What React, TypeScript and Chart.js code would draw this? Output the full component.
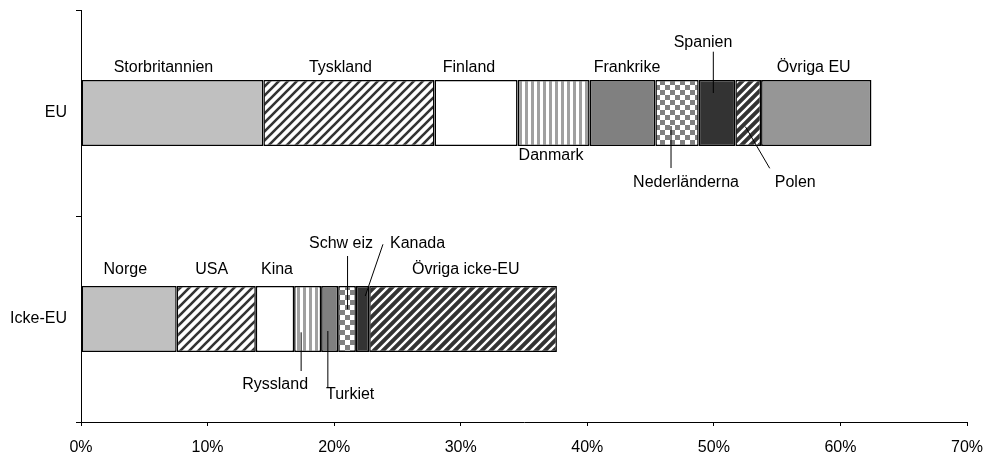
import { useEffect, useRef } from 'react';
import { Chart, registerables } from 'chart.js';

Chart.register(...registerables);

// ---------- data ----------
const categories = ['EU', 'Icke-EU'];
const euCountries = ['Storbritannien', 'Tyskland', 'Finland', 'Danmark', 'Frankrike', 'Nederländerna', 'Spanien', 'Polen', 'Övriga EU'];
const euValues = [14.41, 13.52, 6.56, 5.69, 5.2, 3.42, 2.9, 2.03, 8.72];
const nonEuCountries = ['Norge', 'USA', 'Kina', 'Ryssland', 'Turkiet', 'Schw eiz', 'Kanada', 'Övriga icke-EU'];
const nonEuValues = [7.56, 6.25, 3.03, 2.13, 1.35, 1.4, 1.05, 14.83];
const xTickValues = [0, 10, 20, 30, 40, 50, 60, 70];

// ---------- styles ----------
const FONT = '"Liberation Sans", Arial, Helvetica, sans-serif';
const FONT_SIZE = 16;

type Kind = 'solid' | 'hatch' | 'vstripe' | 'checker' | 'darkhatch';
const segmentStyles: { kind: Kind; color?: string }[] = [
  { kind: 'solid', color: '#C0C0C0' },
  { kind: 'hatch' },
  { kind: 'solid', color: '#FFFFFF' },
  { kind: 'vstripe' },
  { kind: 'solid', color: '#808080' },
  { kind: 'checker' },
  { kind: 'solid', color: '#333333' },
  { kind: 'darkhatch' },
  { kind: 'solid', color: '#969696' },
];

// label layout: dx from segment centre, dy (baseline) from bar centre, optional leader line
type LabelCfg = { seg: number; dx: number; dy: number; leader?: [number, number, number, number] };
const euLabelLayout: LabelCfg[] = [
  { seg: 0, dx: -9, dy: -41 },
  { seg: 1, dx: -8.5, dy: -41 },
  { seg: 2, dx: -7, dy: -41 },
  { seg: 3, dx: -2.5, dy: 47 },
  { seg: 4, dx: 4.5, dy: -41 },
  { seg: 5, dx: 9, dy: 73.7, leader: [-6, 13, -6, 55] },
  { seg: 6, dx: -14, dy: -66.3, leader: [-3.7, -61.3, -3.7, -20] },
  { seg: 7, dx: 47, dy: 73.7, leader: [-2.8, 13.7, 21.5, 55.3] },
  { seg: 8, dx: -2.5, dy: -41 },
];
const nonEuLabelLayout: LabelCfg[] = [
  { seg: 0, dx: -3.8, dy: -44.7 },
  { seg: 1, dx: -4.5, dy: -44.7 },
  { seg: 2, dx: 2, dy: -44.7 },
  { seg: 3, dx: -32.5, dy: 69.6, leader: [-6.5, 13.3, -6.5, 52] },
  { seg: 4, dx: 20.5, dy: 80.3, leader: [-1.8, 12, -1.8, 68] },
  { seg: 5, dx: -6, dy: -71.4, leader: [0.5, -63, 0.5, -9.7] },
  { seg: 6, dx: 55, dy: -71.4, leader: [20.4, -74.7, 2.7, -23] },
  { seg: 7, dx: 2.7, dy: -44.7 },
];

function makePattern(kind: Kind, color?: string): string | CanvasPattern {
  if (kind === 'solid') return color || '#fff';
  const c = document.createElement('canvas');
  const g = c.getContext('2d')!;
  if (kind === 'hatch' || kind === 'darkhatch') {
    const s = 9;
    c.width = s; c.height = s;
    g.fillStyle = kind === 'hatch' ? '#FFFFFF' : '#333333';
    g.fillRect(0, 0, s, s);
    g.strokeStyle = kind === 'hatch' ? '#333333' : '#FFFFFF';
    g.lineWidth = kind === 'hatch' ? 2.6 : 2.4;
    g.beginPath();
    for (let k = -1; k <= 1; k++) {
      g.moveTo(k * s - 1, s + 1);
      g.lineTo(k * s + s + 1, -1);
    }
    g.stroke();
  } else if (kind === 'vstripe') {
    c.width = 6; c.height = 6;
    g.fillStyle = '#FFFFFF';
    g.fillRect(0, 0, 6, 6);
    g.fillStyle = '#A0A0A0';
    g.fillRect(3, 0, 3, 6);
  } else if (kind === 'checker') {
    c.width = 10; c.height = 10;
    g.fillStyle = '#FFFFFF';
    g.fillRect(0, 0, 10, 10);
    g.fillStyle = '#808080';
    g.fillRect(0, 0, 5, 5);
    g.fillRect(5, 5, 5, 5);
  }
  return g.createPattern(c, 'repeat')!;
}

const labelPlugin = {
  id: 'segLabels',
  afterDatasetsDraw(chart: any) {
    const ctx = chart.ctx as CanvasRenderingContext2D;
    ctx.save();
    ctx.font = `${FONT_SIZE}px ${FONT}`;
    ctx.fillStyle = '#000';
    ctx.strokeStyle = '#000';
    ctx.lineWidth = 1;
    ctx.textAlign = 'center';
    ctx.textBaseline = 'alphabetic';
    const groups: [number, LabelCfg[], string[]][] = [
      [0, euLabelLayout, euCountries],
      [1, nonEuLabelLayout, nonEuCountries],
    ];
    for (const [cat, layout, names] of groups) {
      layout.forEach((cfg, i) => {
        const el: any = chart.getDatasetMeta(cfg.seg).data[cat];
        if (!el) return;
        const p = el.getProps(['x', 'y', 'base'], true);
        const cx = (p.x + p.base) / 2;
        const cy = p.y;
        ctx.fillText(names[i], cx + cfg.dx, cy + cfg.dy);
        if (cfg.leader) {
          const [x1, y1, x2, y2] = cfg.leader;
          ctx.beginPath();
          ctx.moveTo(cx + x1, cy + y1);
          ctx.lineTo(cx + x2, cy + y2);
          ctx.stroke();
        }
      });
    }
    ctx.restore();
  },
};

export default function App() {
  const ref = useRef<HTMLCanvasElement>(null);
  useEffect(() => {
    if (!ref.current) return;
    const datasets = segmentStyles.map((st, i) => {
      const fill = makePattern(st.kind, st.color);
      return {
        label: euCountries[i],
        data: [euValues[i] ?? null, nonEuValues[i] ?? null],
        backgroundColor: fill,
        borderColor: '#000000',
        borderWidth: 1.5,
        borderSkipped: false as const,
        barPercentage: 0.32,
        categoryPercentage: 1,
      };
    });
    const chart = new Chart(ref.current, {
      type: 'bar',
      data: { labels: categories, datasets: datasets as any },
      plugins: [labelPlugin],
      options: {
        indexAxis: 'y',
        animation: false,
        responsive: true,
        maintainAspectRatio: false,
        layout: { padding: { top: 10, right: 17, left: 0, bottom: 0 } },
        plugins: { legend: { display: false }, tooltip: { enabled: false } },
        scales: {
          x: {
            type: 'linear',
            stacked: true,
            min: 0,
            max: 70,
            afterBuildTicks: (scale: any) => {
              scale.ticks = xTickValues.map((v) => ({ value: v }));
            },
            afterFit: (scale: any) => {
              scale.height = 35;
              scale.paddingLeft = 0;
              scale.paddingRight = 0;
              scale.paddingTop = 0;
              scale.paddingBottom = 0;
            },
            ticks: {
              callback: (v: any) => `${v}%`,
              color: '#000',
              font: { family: FONT, size: FONT_SIZE },
              padding: 12,
              maxRotation: 0,
              autoSkip: false,
            },
            grid: { drawOnChartArea: false, drawTicks: true, tickLength: 4, color: '#000' },
            border: { color: '#000', width: 1 },
          },
          y: {
            type: 'category',
            stacked: true,
            offset: true,
            afterFit: (scale: any) => {
              scale.width = 81;
              scale.paddingLeft = 0;
              scale.paddingRight = 0;
              scale.paddingTop = 0;
              scale.paddingBottom = 0;
            },
            ticks: {
              color: '#000',
              font: { family: FONT, size: FONT_SIZE },
              padding: 9,
            },
            grid: { drawOnChartArea: false, drawTicks: true, tickLength: 5, color: '#000', offset: true },
            border: { color: '#000', width: 1 },
          },
        },
      },
    });
    return () => chart.destroy();
  }, []);
  return (
    <div style={{ position: 'fixed', left: 0, top: 0, width: 984, height: 457, background: '#fff' }}>
      <canvas ref={ref} />
    </div>
  );
}
